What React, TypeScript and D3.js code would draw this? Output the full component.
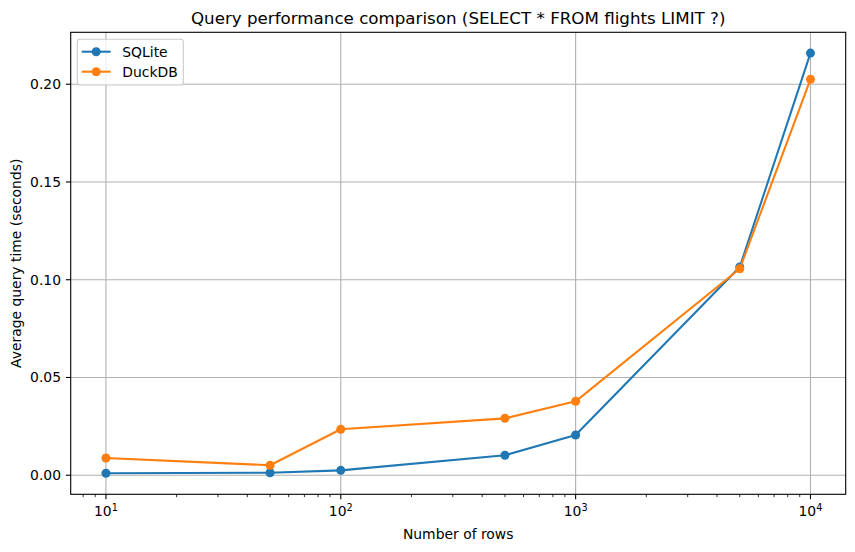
import React from "react";
import * as d3 from "d3";

const rows = [10, 50, 100, 500, 1000, 5000, 10000];
const sqliteTimes = [0.001, 0.0013, 0.0025, 0.0102, 0.0206, 0.1065, 0.2159];
const duckdbTimes = [0.0088, 0.0051, 0.0235, 0.0291, 0.0378, 0.1056, 0.2025];
const yTicks = [0.0, 0.05, 0.1, 0.15, 0.2];
const xTickExps = [1, 2, 3, 4];
const seriesNames = ["SQLite", "DuckDB"];
const colors = ["#1f77b4", "#ff7f0e"];

const W = 855, H = 552;
const L = 70.7, R = 845.7, T = 32.3, B = 494.3;
const FONT = "DejaVu Sans, sans-serif";
const MR = 4.5;

export default function App() {
  const x = d3.scaleLog().domain([Math.pow(10, 0.85), Math.pow(10, 4.15)]).range([L, R]);
  const y = d3.scaleLinear().domain([-0.00975, 0.22655]).range([B, T]);
  const series = [sqliteTimes, duckdbTimes];
  const line = d3.line<[number, number]>().x(d => x(d[0])).y(d => y(d[1]));
  const minor: number[] = [];
  for (let e = 0; e <= 4; e++) for (let m = 2; m <= 9; m++) {
    const v = m * Math.pow(10, e);
    if (v > x.domain()[0] && v < x.domain()[1]) minor.push(v);
  }
  return (
    <svg width={W} height={H} style={{ position: "absolute", left: 0, top: 0 }} fontFamily={FONT}>
      <rect x={0} y={0} width={W} height={H} fill="#fff" />
      {xTickExps.map(e => (
        <line key={"gx" + e} x1={x(Math.pow(10, e))} x2={x(Math.pow(10, e))} y1={T} y2={B} stroke="#b0b0b0" strokeWidth={1.1} />
      ))}
      {yTicks.map(t => (
        <line key={"gy" + t} x1={L} x2={R} y1={y(t)} y2={y(t)} stroke="#b0b0b0" strokeWidth={1.1} />
      ))}
      {series.map((s, i) => (
        <g key={"s" + i}>
          <path d={line(rows.map((r, j) => [r, s[j]] as [number, number])) || ""} fill="none" stroke={colors[i]} strokeWidth={2.08} strokeLinejoin="round" strokeLinecap="square" />
          {rows.map((r, j) => (
            <circle key={j} cx={x(r)} cy={y(s[j])} r={MR} fill={colors[i]} />
          ))}
        </g>
      ))}
      <rect x={L} y={T} width={R - L} height={B - T} fill="none" stroke="#000" strokeWidth={1.1} />
      {xTickExps.map(e => {
        const px = x(Math.pow(10, e));
        return (
          <g key={"xt" + e}>
            <line x1={px} x2={px} y1={B} y2={B + 4.86} stroke="#000" strokeWidth={1.1} />
            <text x={px} y={B + 22} fontSize={13.9} textAnchor="middle" fill="#000">
              10<tspan fontSize={9.7} dy={-5.5}>{e}</tspan>
            </text>
          </g>
        );
      })}
      {minor.map(v => (
        <line key={"mx" + v} x1={x(v)} x2={x(v)} y1={B} y2={B + 2.78} stroke="#000" strokeWidth={0.83} />
      ))}
      {yTicks.map(t => (
        <g key={"yt" + t}>
          <line x1={L - 4.86} x2={L} y1={y(t)} y2={y(t)} stroke="#000" strokeWidth={1.1} />
          <text x={L - 9.7} y={y(t)} dy="0.35em" fontSize={13.9} textAnchor="end" fill="#000">
            {d3.format(".2f")(t)}
          </text>
        </g>
      ))}
      <text x={(L + R) / 2} y={24} fontSize={16.7} textAnchor="middle" fill="#000">
        Query performance comparison (SELECT * FROM flights LIMIT ?)
      </text>
      <text x={(L + R) / 2} y={539} fontSize={13.9} textAnchor="middle" fill="#000">Number of rows</text>
      <text transform={`translate(21, ${(T + B) / 2}) rotate(-90)`} fontSize={13.9} textAnchor="middle" fill="#000">
        Average query time (seconds)
      </text>
      <rect x={77.3} y={39.3} width={106} height={45.7} rx={2.8} fill="#fff" fillOpacity={0.8} stroke="#cccccc" strokeWidth={1.1} />
      {seriesNames.map((n, i) => {
        const cy = 51.7 + i * 20;
        return (
          <g key={"lg" + i}>
            <line x1={81.7} x2={110.7} y1={cy} y2={cy} stroke={colors[i]} strokeWidth={2.08} />
            <circle cx={96.2} cy={cy} r={MR} fill={colors[i]} />
            <text x={122.3} y={cy} dy="0.35em" fontSize={13.9} fill="#000">{n}</text>
          </g>
        );
      })}
    </svg>
  );
}
